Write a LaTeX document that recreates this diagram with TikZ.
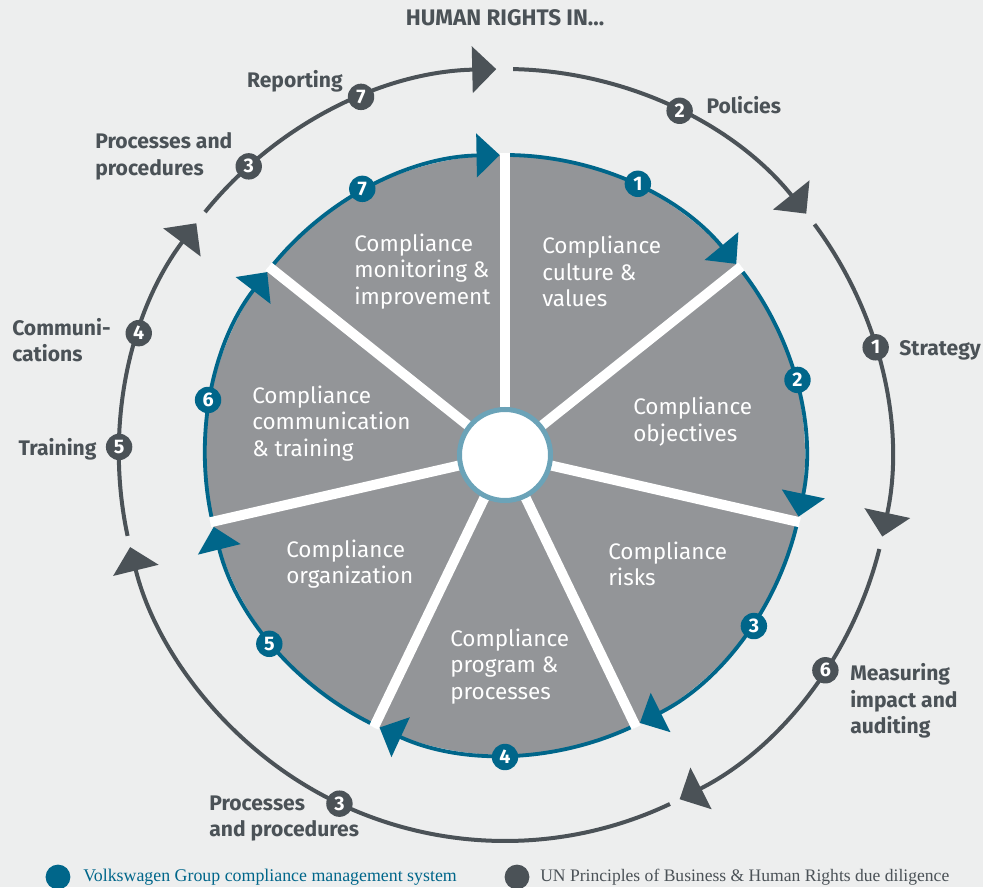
\documentclass[tikz,border=0pt]{standalone}
\usepackage{fontspec}
\setmainfont{Fira Sans}
\newfontfamily\legendfont{Liberation Serif}
\usetikzlibrary{arrows.meta,positioning,calc}
\definecolor{vwblue}{HTML}{00668A}
\definecolor{ungrey}{HTML}{4B5257}
\definecolor{piegrey}{HTML}{939598}
\definecolor{hubblue}{HTML}{6BA3B8}
\definecolor{pagebg}{HTML}{EDEEEE}
\tikzset{
  sectortext/.style={
    align=left,
    anchor=west,
    inner sep=0pt,
    text=white,
    font=\fontsize{16}{18.9}\selectfont
  },
  steplabel/.style={
    align=left,
    inner sep=0pt,
    text=ungrey,
    font=\bfseries\fontsize{15}{18.9}\selectfont
  },
  vwbadge/.style={
    circle,
    fill=vwblue,
    minimum size=0.66cm,
    inner sep=0pt,
    text=white,
    font=\bfseries\fontsize{14}{15}\selectfont
  },
  unbadge/.style={
    vwbadge,
    fill=ungrey
  },
  vwarrow/.style={
    -{Triangle[length=0.58cm,width=1.08cm]},
    line width=0.095cm,
    draw=vwblue
  },
  unarrow/.style={
    -{Triangle[length=0.6cm,width=1.15cm]},
    line width=0.1cm,
    draw=ungrey
  },
  divider/.style={
    draw=white,
    line width=0.25cm
  }
}

\begin{document}
\begin{tikzpicture}
\fill[pagebg] (-12.625,-10.8) rectangle (11.95,11.375);
\useasboundingbox (-12.625,-10.8) rectangle (11.95,11.375);

% compliance management system (inner wheel)
\fill[piegrey] (0,0) circle (7.5);
\foreach \k in {1,...,7}
  \draw[vwarrow] ({90-(\k-1)*360/7}:7.5) arc[start angle={90-(\k-1)*360/7}, end angle={90-\k*360/7+1}, radius=7.5];
\foreach \k in {0,...,6}
  \draw[divider] (0,0) -- ({90-\k*360/7}:7.56);
\node[circle, fill=white, draw=hubblue, line width=0.125cm, minimum size=2.275cm] (hub) at (0,0) {};
\foreach \k/\a in {1/63.9, 2/14.4, 3/-34.5, 4/-90, 5/-141.3, 6/169.5, 7/118.2}
  \node[vwbadge] (c\k) at (\a:7.55) {\k};

\node[sectortext] (culture) at (0.925,4.5875) {Compliance\\culture \&\\values};
\node[sectortext] (objectives) at (3.2,0.8375) {Compliance\\objectives};
\node[sectortext] (risks) at (2.575,-2.725) {Compliance\\risks};
\node[sectortext] (program) at (-1.375,-5.2875) {Compliance\\program \&\\processes};
\node[sectortext] (organization) at (-5.475,-2.725) {Compliance\\organization};
\node[sectortext] (training) at (-6.325,0.7875) {Compliance\\communication\\\& training};
\node[sectortext] (monitoring) at (-3.775,4.5875) {Compliance\\monitoring \&\\improvement};

% UN due diligence (outer ring)
\foreach \s/\e in {141/91.3, 88.8/38.7, 36.7/-12.2, -14.1/-63.1, -64.7/-166.2, 192.1/143.1}
  \draw[unarrow] (\s:9.65) arc[start angle=\s, end angle=\e, radius=9.65];
\foreach \n/\d/\a in {strategy/1/16.2, policies/2/63.1, measuring/6/-33.9, procb/3/-115.4,
                      train/5/178.8, comm/4/161.6, proca/3/131.6, reporting/7/111.9}
  \node[unbadge] (u-\n) at (\a:9.65) {\d};

\node[steplabel, anchor=center, font=\bfseries\fontsize{16}{19}\selectfont] (title) at (0,10.925) {HUMAN RIGHTS IN...};
\node[steplabel, anchor=east] (l-reporting) at (-4.05,9.35) {Reporting};
\node[steplabel, anchor=west] (l-proca) at (-10.25,7.4625) {Processes and\\procedures};
\node[steplabel, right=0.33cm of u-policies, yshift=0.14cm] (l-policies) {Policies};
\node[steplabel, right=0.25cm of u-strategy, yshift=-0.07cm] (l-strategy) {Strategy};
\node[steplabel, anchor=west] (l-measuring) at (8.625,-6.15) {Measuring\\impact and\\auditing};
\node[steplabel, anchor=west] (l-procb) at (-7.4,-9.0875) {Processes\\and procedures};
\node[steplabel, anchor=west] (l-comm) at (-12.325,2.875) {Communi-\\cations};
\node[steplabel, left=0.22cm of u-train, yshift=-0.07cm] (l-train) {Training};

% legend
\fill[vwblue] (-11.175,-10.55) circle (0.31);
\node[anchor=west, inner sep=0pt, text=vwblue, font=\legendfont\fontsize{12.7}{14}\selectfont] (leg-vw) at (-10.55,-10.55) {Volkswagen Group compliance management system};
\fill[ungrey] (0.3,-10.55) circle (0.31);
\node[anchor=west, inner sep=0pt, text=ungrey, font=\legendfont\fontsize{12.5}{14}\selectfont] (leg-un) at (0.875,-10.55) {UN Principles of Business \& Human Rights due diligence};
\end{tikzpicture}
\end{document}
